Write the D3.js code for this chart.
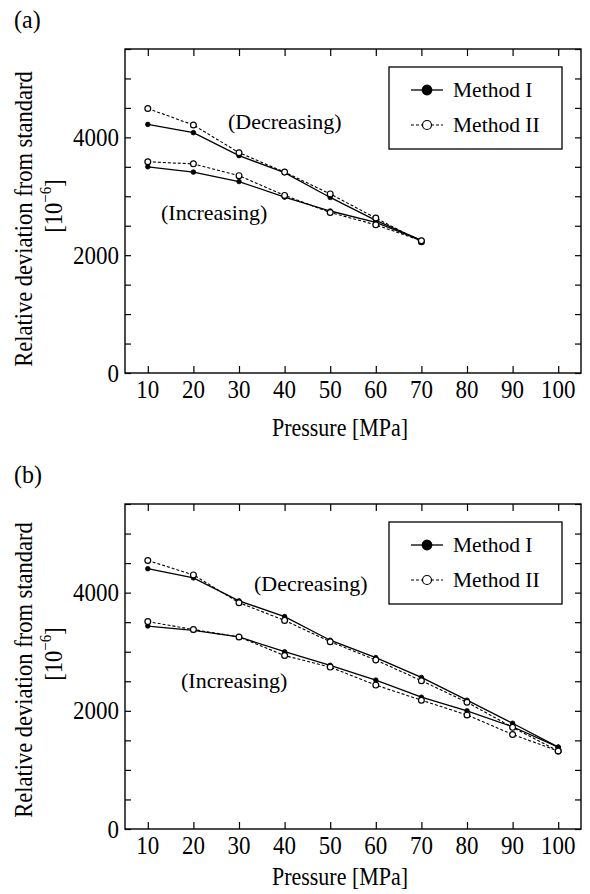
<!DOCTYPE html>
<html><head><meta charset="utf-8">
<script src="https://cdn.jsdelivr.net/npm/d3@7"></script>
<style>
html,body{margin:0;padding:0;background:#fff;}
text{font-family:"Liberation Serif","Times New Roman",Times,serif;fill:#000;}
</style></head>
<body>
<svg id="chart" width="590" height="894"></svg>
<script>
// ---------- data ----------
const pressureA = [10, 20, 30, 40, 50, 60, 70];
const pressureB = [10, 20, 30, 40, 50, 60, 70, 80, 90, 100];

const aDecreasingI  = [4220, 4080, 3690, 3400, 2980, 2590, 2250];
const aDecreasingII = [4490, 4210, 3740, 3410, 3040, 2630, 2230];
const aIncreasingI  = [3500, 3410, 3250, 2985, 2750, 2555, 2250];
const aIncreasingII = [3585, 3550, 3350, 3015, 2725, 2515, 2245];

const bDecreasingI  = [4405, 4250, 3860, 3595, 3195, 2900, 2565, 2180, 1790, 1385];
const bDecreasingII = [4545, 4300, 3830, 3530, 3170, 2860, 2510, 2145, 1720, 1320];
const bIncreasingI  = [3435, 3360, 3250, 3000, 2770, 2520, 2230, 2000, 1730, 1385];
const bIncreasingII = [3510, 3375, 3250, 2935, 2740, 2435, 2180, 1930, 1600, 1320];

const xTickValues = [10, 20, 30, 40, 50, 60, 70, 80, 90, 100];
const yTickLabelValues = [0, 2000, 4000];
const yMinorTickValues = d3.range(0, 5501, 500);
const seriesNames = ["Method I", "Method II"];
const annotationTexts = ["(Decreasing)", "(Increasing)"];
const panelLabels = ["(a)", "(b)"];
const xTitle = "Pressure [MPa]";
const yTitle = "Relative deviation from standard";

// ---------- drawing ----------
const svg = d3.select("#chart");
const STRETCH = 1.12;

function drawPanel(cfg) {
  const g = svg.append("g");
  const x = d3.scaleLinear().domain([5, 105]).range([cfg.left, cfg.right]);
  const y = d3.scaleLinear().domain([0, 5500]).range([cfg.bottom, cfg.top]);

  const tl = 7;
  const styleTicks = s => { s.select(".domain").remove(); s.selectAll("line").attr("stroke-width", 1.2); };
  g.append("g").attr("transform", `translate(0,${cfg.bottom})`)
    .call(d3.axisTop(x).tickValues(xTickValues).tickSize(tl).tickFormat("")).call(styleTicks);
  g.append("g").attr("transform", `translate(0,${cfg.top})`)
    .call(d3.axisBottom(x).tickValues(xTickValues).tickSize(tl).tickFormat("")).call(styleTicks);
  g.append("g").attr("transform", `translate(${cfg.left},0)`)
    .call(d3.axisRight(y).tickValues(yMinorTickValues).tickSize(6).tickFormat("")).call(styleTicks);
  g.append("g").attr("transform", `translate(${cfg.right},0)`)
    .call(d3.axisLeft(y).tickValues(yMinorTickValues).tickSize(6).tickFormat("")).call(styleTicks);

  g.append("rect").attr("x", cfg.left).attr("y", cfg.top)
    .attr("width", cfg.right - cfg.left).attr("height", cfg.bottom - cfg.top)
    .attr("fill", "none").attr("stroke", "#000").attr("stroke-width", 1.4);

  // tick labels
  g.selectAll(".xl").data(xTickValues).join("text")
    .attr("transform", d => `translate(${x(d)},${cfg.bottom + 25}) scale(1,${STRETCH})`)
    .attr("text-anchor", "middle").attr("font-size", 23).text(d => d);
  g.selectAll(".yl").data(yTickLabelValues).join("text")
    .attr("transform", d => `translate(${cfg.left - 6},${y(d) + 8.5}) scale(1,${STRETCH})`)
    .attr("text-anchor", "end").attr("font-size", 23).text(d => d);

  // axis titles
  g.append("text").attr("transform", `translate(340,${cfg.xlabY}) scale(1,${STRETCH})`)
    .attr("text-anchor", "middle").attr("font-size", 22).text(xTitle);
  g.append("text").attr("transform", `translate(32,${cfg.ylab1}) rotate(-90) scale(1,${STRETCH})`)
    .attr("text-anchor", "middle").attr("font-size", 22.5).text(yTitle);
  const t2 = g.append("text").attr("transform", `translate(62,${cfg.ylab2}) rotate(-90) scale(1,${STRETCH})`)
    .attr("text-anchor", "middle").attr("font-size", 22.5);
  t2.append("tspan").text("[10");
  t2.append("tspan").attr("font-size", 15).attr("dy", -10).text("\u22126");
  t2.append("tspan").attr("dy", 10).text("]");

  // panel label
  g.append("text").attr("transform", `translate(14,${cfg.top - 21}) scale(1,1.05)`).attr("font-size", 24).text(cfg.label);

  // series
  const line = d3.line().x(d => x(d[0])).y(d => y(d[1]));
  const draw = (xs, ys, method) => {
    const pts = xs.map((p, i) => [p, ys[i]]);
    g.append("path").datum(pts).attr("d", line).attr("fill", "none")
      .attr("stroke", "#000").attr("stroke-width", method === 0 ? 1.3 : 1.1)
      .attr("stroke-dasharray", method === 0 ? null : "3,2");
    g.selectAll(null).data(pts).join("circle")
      .attr("cx", d => x(d[0])).attr("cy", d => y(d[1]))
      .attr("r", method === 0 ? 2.3 : 2.9)
      .attr("fill", method === 0 ? "#000" : "#fff")
      .attr("stroke", "#000").attr("stroke-width", method === 0 ? 0.8 : 1.2);
  };
  draw(cfg.px, cfg.decI, 0);
  draw(cfg.px, cfg.incI, 0);
  draw(cfg.px, cfg.decII, 1);
  draw(cfg.px, cfg.incII, 1);

  // annotations
  g.append("text").attr("x", cfg.decPos[0]).attr("y", cfg.decPos[1]).attr("font-size", 22).text(annotationTexts[0]);
  g.append("text").attr("x", cfg.incPos[0]).attr("y", cfg.incPos[1]).attr("font-size", 22).text(annotationTexts[1]);

  // legend
  const lg = g.append("g");
  lg.append("rect").attr("x", 389).attr("y", cfg.top + 18).attr("width", 173).attr("height", 82)
    .attr("fill", "#fff").attr("stroke", "#000").attr("stroke-width", 1.3);
  seriesNames.forEach((name, i) => {
    const ly = cfg.top + 41 + i * 35;
    lg.append("line").attr("x1", 411).attr("x2", 443).attr("y1", ly).attr("y2", ly)
      .attr("stroke", "#000").attr("stroke-width", i === 0 ? 1.3 : 1.1)
      .attr("stroke-dasharray", i === 0 ? null : "3,2");
    lg.append("circle").attr("cx", 427).attr("cy", ly).attr("r", i === 0 ? 4.8 : 4.5)
      .attr("fill", i === 0 ? "#000" : "#fff").attr("stroke", "#000").attr("stroke-width", 1.2);
    lg.append("text").attr("x", 453).attr("y", ly + 7).attr("font-size", 21.5).text(name);
  });
}

drawPanel({label: panelLabels[0], left: 125, right: 581, top: 49, bottom: 373,
  px: pressureA, decI: aDecreasingI, decII: aDecreasingII, incI: aIncreasingI, incII: aIncreasingII,
  decPos: [228, 129], incPos: [161, 220], ylab1: 219, ylab2: 206, xlabY: 436});
drawPanel({label: panelLabels[1], left: 125, right: 581, top: 504, bottom: 829,
  px: pressureB, decI: bDecreasingI, decII: bDecreasingII, incI: bIncreasingI, incII: bIncreasingII,
  decPos: [254, 591], incPos: [181, 688], ylab1: 670, ylab2: 654, xlabY: 885});
</script>
</body></html>
